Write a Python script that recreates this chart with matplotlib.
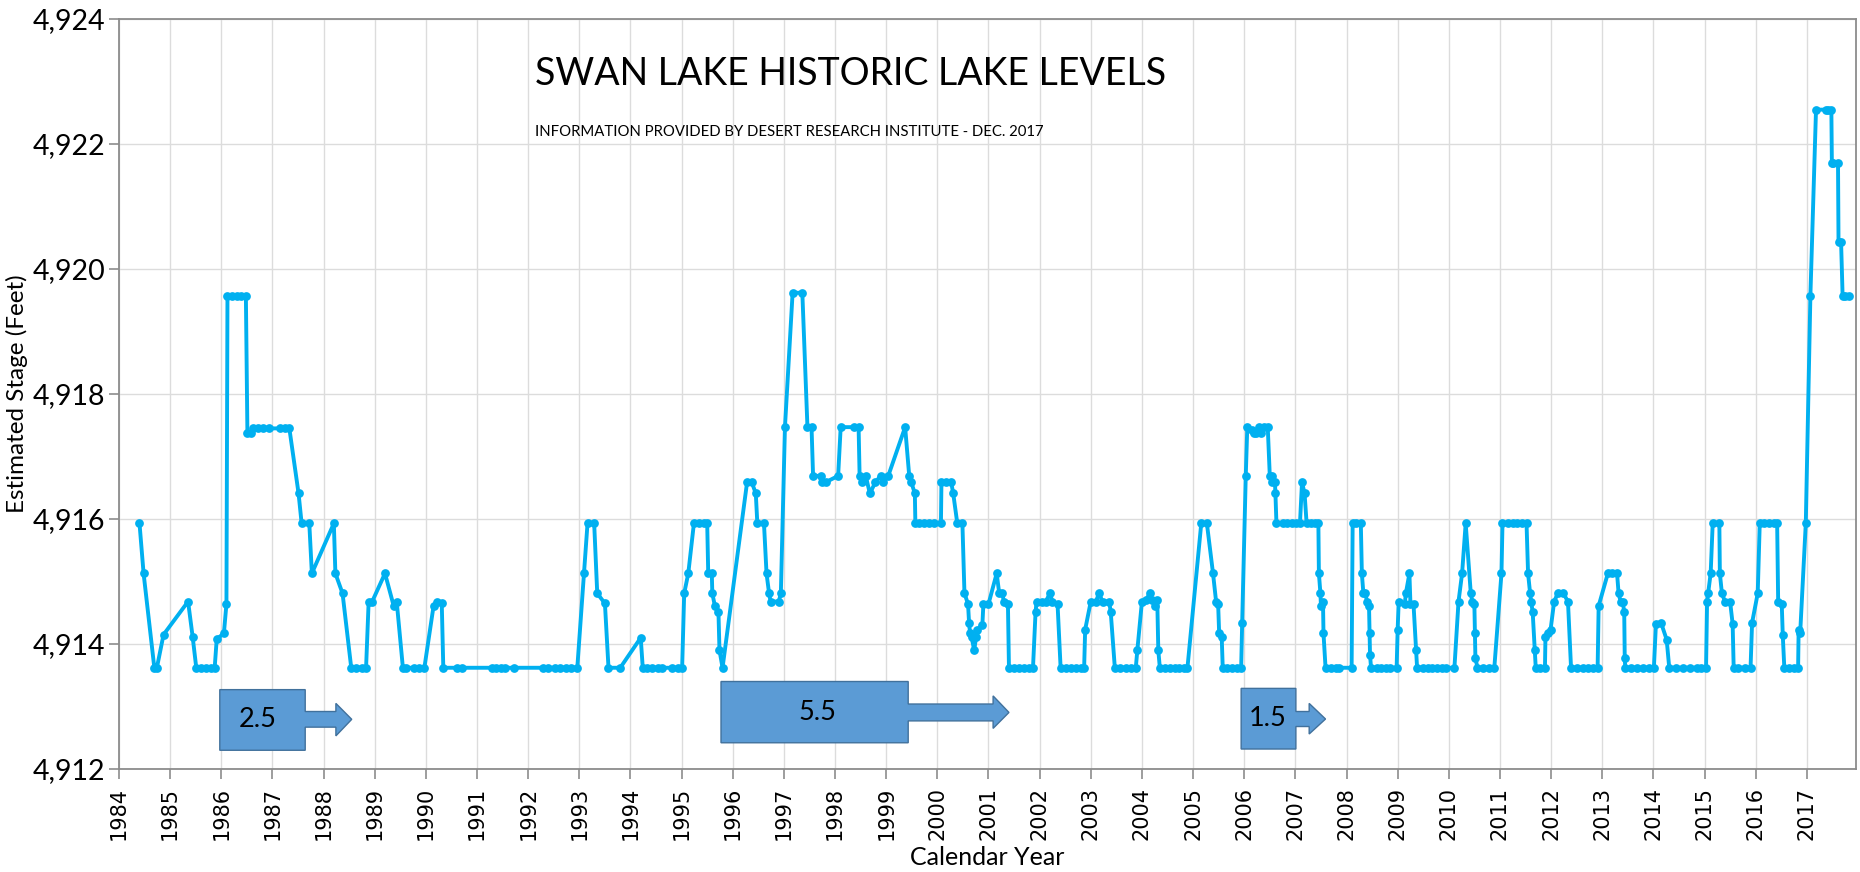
import matplotlib
matplotlib.use("Agg")
import matplotlib.pyplot as plt
from matplotlib.patches import Polygon
from matplotlib.ticker import FuncFormatter

# --- data (decimal year, estimated stage in feet) ---
year = [
    1984.40, 1984.48, 1984.69, 1984.74, 1984.87, 1985.35, 1985.44, 1985.51,
    1985.61, 1985.71, 1985.80, 1985.87, 1985.91, 1986.05, 1986.10, 1986.12,
    1986.21, 1986.30, 1986.39, 1986.48, 1986.51, 1986.58, 1986.62, 1986.72,
    1986.82, 1986.93, 1987.14, 1987.24, 1987.33, 1987.51, 1987.57, 1987.72,
    1987.77, 1988.20, 1988.23, 1988.37, 1988.54, 1988.64, 1988.75, 1988.83,
    1988.88, 1988.95, 1989.20, 1989.37, 1989.43, 1989.55, 1989.62, 1989.76,
    1989.87, 1989.97, 1990.15, 1990.21, 1990.31, 1990.34, 1990.60, 1990.71,
    1991.30, 1991.37, 1991.47, 1991.54, 1991.72, 1992.28, 1992.38, 1992.52,
    1992.63, 1992.73, 1992.84, 1992.96, 1993.09, 1993.16, 1993.29, 1993.35,
    1993.50, 1993.57, 1993.80, 1994.20, 1994.24, 1994.33, 1994.43, 1994.53,
    1994.62, 1994.82, 1994.92, 1995.01, 1995.05, 1995.13, 1995.24, 1995.34,
    1995.44, 1995.50, 1995.52, 1995.59, 1995.60, 1995.65, 1995.72, 1995.74,
    1995.80, 1996.28, 1996.37, 1996.45, 1996.48, 1996.61, 1996.66, 1996.71,
    1996.74, 1996.90, 1996.94, 1997.02, 1997.17, 1997.36, 1997.46, 1997.54,
    1997.57, 1997.72, 1997.75, 1997.82, 1998.06, 1998.11, 1998.37, 1998.46,
    1998.48, 1998.52, 1998.60, 1998.68, 1998.79, 1998.89, 1998.94, 1999.04,
    1999.37, 1999.45, 1999.49, 1999.56, 1999.57, 1999.64, 1999.74, 1999.84,
    1999.93, 2000.07, 2000.08, 2000.17, 2000.27, 2000.31, 2000.39, 2000.49,
    2000.53, 2000.60, 2000.62, 2000.64, 2000.67, 2000.72, 2000.76, 2000.78,
    2000.88, 2000.90, 2001.00, 2001.16, 2001.21, 2001.27, 2001.30, 2001.38,
    2001.40, 2001.50, 2001.60, 2001.70, 2001.79, 2001.87, 2001.92, 2001.94,
    2002.04, 2002.12, 2002.20, 2002.25, 2002.35, 2002.41, 2002.51, 2002.61,
    2002.71, 2002.80, 2002.87, 2002.89, 2003.00, 2003.10, 2003.16, 2003.23,
    2003.36, 2003.39, 2003.47, 2003.58, 2003.68, 2003.78, 2003.88, 2003.91,
    2004.00, 2004.08, 2004.15, 2004.20, 2004.25, 2004.30, 2004.32, 2004.35,
    2004.46, 2004.55, 2004.64, 2004.73, 2004.82, 2004.89, 2005.16, 2005.27,
    2005.39, 2005.45, 2005.49, 2005.51, 2005.56, 2005.58, 2005.67, 2005.76,
    2005.85, 2005.94, 2005.96, 2006.03, 2006.06, 2006.15, 2006.20, 2006.24,
    2006.28, 2006.32, 2006.39, 2006.46, 2006.50, 2006.54, 2006.55, 2006.60,
    2006.61, 2006.63, 2006.75, 2006.84, 2006.93, 2007.02, 2007.09, 2007.13,
    2007.18, 2007.22, 2007.30, 2007.38, 2007.45, 2007.46, 2007.49, 2007.50,
    2007.54, 2007.55, 2007.59, 2007.70, 2007.79, 2007.86, 2008.10, 2008.12,
    2008.19, 2008.28, 2008.30, 2008.33, 2008.37, 2008.40, 2008.44, 2008.45,
    2008.46, 2008.48, 2008.59, 2008.68, 2008.77, 2008.86, 2008.98, 2009.00,
    2009.02, 2009.14, 2009.16, 2009.23, 2009.25, 2009.31, 2009.36, 2009.38,
    2009.50, 2009.59, 2009.68, 2009.77, 2009.86, 2009.95, 2010.11, 2010.19,
    2010.26, 2010.33, 2010.43, 2010.46, 2010.50, 2010.51, 2010.52, 2010.56,
    2010.67, 2010.78, 2010.89, 2011.03, 2011.05, 2011.16, 2011.25, 2011.34,
    2011.43, 2011.52, 2011.55, 2011.59, 2011.61, 2011.64, 2011.68, 2011.70,
    2011.79, 2011.88, 2011.89, 2011.94, 2011.99, 2012.06, 2012.13, 2012.24,
    2012.33, 2012.39, 2012.51, 2012.62, 2012.73, 2012.82, 2012.91, 2012.93,
    2013.11, 2013.20, 2013.29, 2013.32, 2013.36, 2013.40, 2013.43, 2013.44,
    2013.45, 2013.56, 2013.68, 2013.80, 2013.91, 2014.01, 2014.05, 2014.15,
    2014.26, 2014.31, 2014.45, 2014.58, 2014.72, 2014.85, 2014.94, 2015.03,
    2015.05, 2015.07, 2015.12, 2015.16, 2015.29, 2015.30, 2015.34, 2015.40,
    2015.50, 2015.55, 2015.57, 2015.66, 2015.79, 2015.90, 2015.93, 2016.04,
    2016.08, 2016.17, 2016.26, 2016.35, 2016.42, 2016.44, 2016.51, 2016.53,
    2016.56, 2016.65, 2016.74, 2016.83, 2016.84, 2016.87, 2016.98, 2017.07,
    2017.18, 2017.38, 2017.42, 2017.48, 2017.49, 2017.52, 2017.61, 2017.62,
    2017.67, 2017.70, 2017.75, 2017.83,
]
stage = [
    4915.93, 4915.13, 4913.62, 4913.62, 4914.15, 4914.68, 4914.11, 4913.62,
    4913.62, 4913.62, 4913.62, 4913.62, 4914.08, 4914.17, 4914.64, 4919.57,
    4919.57, 4919.57, 4919.57, 4919.57, 4917.37, 4917.37, 4917.45, 4917.45,
    4917.45, 4917.45, 4917.45, 4917.45, 4917.45, 4916.41, 4915.93, 4915.93,
    4915.13, 4915.93, 4915.13, 4914.81, 4913.62, 4913.62, 4913.62, 4913.62,
    4914.67, 4914.68, 4915.13, 4914.61, 4914.67, 4913.62, 4913.62, 4913.62,
    4913.62, 4913.62, 4914.61, 4914.67, 4914.65, 4913.62, 4913.62, 4913.62,
    4913.62, 4913.62, 4913.62, 4913.62, 4913.62, 4913.62, 4913.62, 4913.62,
    4913.62, 4913.62, 4913.62, 4913.62, 4915.13, 4915.93, 4915.93, 4914.81,
    4914.65, 4913.62, 4913.62, 4914.10, 4913.62, 4913.62, 4913.62, 4913.62,
    4913.62, 4913.62, 4913.62, 4913.62, 4914.81, 4915.13, 4915.93, 4915.93,
    4915.93, 4915.93, 4915.13, 4915.13, 4914.81, 4914.61, 4914.51, 4913.90,
    4913.62, 4916.59, 4916.59, 4916.41, 4915.93, 4915.93, 4915.13, 4914.81,
    4914.68, 4914.68, 4914.81, 4917.47, 4919.62, 4919.62, 4917.47, 4917.47,
    4916.69, 4916.69, 4916.59, 4916.59, 4916.69, 4917.47, 4917.47, 4917.47,
    4916.69, 4916.59, 4916.69, 4916.41, 4916.59, 4916.69, 4916.59, 4916.69,
    4917.47, 4916.69, 4916.59, 4916.41, 4915.93, 4915.93, 4915.93, 4915.93,
    4915.93, 4915.93, 4916.59, 4916.59, 4916.59, 4916.41, 4915.93, 4915.93,
    4914.81, 4914.64, 4914.34, 4914.17, 4914.11, 4913.90, 4914.12, 4914.23,
    4914.30, 4914.64, 4914.64, 4915.13, 4914.81, 4914.81, 4914.68, 4914.64,
    4913.62, 4913.62, 4913.62, 4913.62, 4913.62, 4913.62, 4914.51, 4914.68,
    4914.68, 4914.68, 4914.81, 4914.68, 4914.64, 4913.62, 4913.62, 4913.62,
    4913.62, 4913.62, 4913.62, 4914.23, 4914.68, 4914.68, 4914.81, 4914.68,
    4914.68, 4914.51, 4913.62, 4913.62, 4913.62, 4913.62, 4913.62, 4913.90,
    4914.68, 4914.70, 4914.81, 4914.70, 4914.61, 4914.70, 4913.90, 4913.62,
    4913.62, 4913.62, 4913.62, 4913.62, 4913.62, 4913.62, 4915.93, 4915.93,
    4915.13, 4914.68, 4914.64, 4914.17, 4914.11, 4913.62, 4913.62, 4913.62,
    4913.62, 4913.62, 4914.34, 4916.69, 4917.47, 4917.42, 4917.37, 4917.37,
    4917.47, 4917.37, 4917.47, 4917.47, 4916.69, 4916.69, 4916.59, 4916.59,
    4916.41, 4915.93, 4915.93, 4915.93, 4915.93, 4915.93, 4915.93, 4916.59,
    4916.41, 4915.93, 4915.93, 4915.93, 4915.93, 4915.13, 4914.81, 4914.61,
    4914.68, 4914.17, 4913.62, 4913.62, 4913.62, 4913.62, 4913.62, 4915.93,
    4915.93, 4915.93, 4915.13, 4914.81, 4914.81, 4914.68, 4914.61, 4914.17,
    4913.82, 4913.62, 4913.62, 4913.62, 4913.62, 4913.62, 4913.62, 4914.23,
    4914.68, 4914.64, 4914.81, 4915.13, 4914.64, 4914.64, 4913.90, 4913.62,
    4913.62, 4913.62, 4913.62, 4913.62, 4913.62, 4913.62, 4913.62, 4914.68,
    4915.13, 4915.93, 4914.81, 4914.68, 4914.64, 4914.17, 4913.78, 4913.62,
    4913.62, 4913.62, 4913.62, 4915.13, 4915.93, 4915.93, 4915.93, 4915.93,
    4915.93, 4915.93, 4915.13, 4914.81, 4914.68, 4914.51, 4913.90, 4913.62,
    4913.62, 4913.62, 4914.12, 4914.17, 4914.23, 4914.68, 4914.81, 4914.81,
    4914.68, 4913.62, 4913.62, 4913.62, 4913.62, 4913.62, 4913.62, 4914.61,
    4915.13, 4915.13, 4915.13, 4914.81, 4914.68, 4914.68, 4914.51, 4913.78,
    4913.62, 4913.62, 4913.62, 4913.62, 4913.62, 4913.62, 4914.32, 4914.34,
    4914.07, 4913.62, 4913.62, 4913.62, 4913.62, 4913.62, 4913.62, 4913.62,
    4914.68, 4914.81, 4915.13, 4915.93, 4915.93, 4915.13, 4914.81, 4914.68,
    4914.68, 4914.32, 4913.62, 4913.62, 4913.62, 4913.62, 4914.34, 4914.81,
    4915.93, 4915.93, 4915.93, 4915.93, 4915.93, 4914.68, 4914.64, 4914.14,
    4913.62, 4913.62, 4913.62, 4913.62, 4914.23, 4914.17, 4915.93, 4919.57,
    4922.55, 4922.55, 4922.55, 4922.55, 4921.69, 4921.69, 4921.69, 4920.43,
    4920.43, 4919.57, 4919.57, 4919.57,
]
assert len(year) == len(stage)

year_ticks = list(range(1984, 2018))
stage_ticks = [4912, 4914, 4916, 4918, 4920, 4922, 4924]

# block-arrow callouts (label, box span, arrow head, tip)
callout_text = ["2.5", "5.5", "1.5"]
callout_text_x = [1986.72, 1997.65, 2006.45]
box_left = [1985.97, 1995.77, 2005.94]
box_right = [1987.64, 1999.43, 2007.01]
head_base = [1988.24, 2001.09, 2007.27]
head_tip = [1988.55, 2001.40, 2007.59]
box_top = [4913.27, 4913.40, 4913.29]
box_bottom = [4912.30, 4912.42, 4912.32]
shaft_top = [4912.92, 4913.04, 4912.92]
shaft_bottom = [4912.67, 4912.77, 4912.68]
head_top = [4913.05, 4913.17, 4913.05]
head_bottom = [4912.53, 4912.65, 4912.56]

# --- figure ---
fig = plt.figure(figsize=(18.6, 8.72), dpi=100)
ax = fig.add_axes([0.064, 0.1181, 0.9338, 0.8601])

ax.plot(year, stage, color="#00B0F0", lw=2.8, marker="o", ms=6.3,
        markeredgewidth=0, zorder=3)

for i in range(len(callout_text)):
    mid = (shaft_top[i] + shaft_bottom[i]) / 2
    verts = [
        (box_left[i], box_bottom[i]), (box_left[i], box_top[i]),
        (box_right[i], box_top[i]), (box_right[i], shaft_top[i]),
        (head_base[i], shaft_top[i]), (head_base[i], head_top[i]),
        (head_tip[i], mid), (head_base[i], head_bottom[i]),
        (head_base[i], shaft_bottom[i]), (box_right[i], shaft_bottom[i]),
        (box_right[i], box_bottom[i]),
    ]
    ax.add_patch(Polygon(verts, closed=True, facecolor="#5B9BD5",
                         edgecolor="#41719C", lw=1.0, zorder=4))
    ax.text(callout_text_x[i], (box_top[i] + box_bottom[i]) / 2, callout_text[i],
            ha="center", va="center", fontsize=19.5, family="Lato", zorder=5)

ax.set_xlim(1984, 2017.96)
ax.set_ylim(4912, 4924)
ax.set_xticks(year_ticks)
ax.set_xticklabels([str(y) for y in year_ticks], rotation=90,
                   family="DejaVu Sans", fontsize=15)
ax.set_yticks(stage_ticks)
ax.yaxis.set_major_formatter(FuncFormatter(lambda v, p: f"{v:,.0f}"))
for lab in ax.get_yticklabels():
    lab.set_family("Lato")
    lab.set_fontsize(20.5)

ax.grid(True, color="#DCDCDC", lw=1.0)
ax.set_axisbelow(True)
for s in ax.spines.values():
    s.set_color("#8C8C8C")
    s.set_linewidth(1.3)
ax.tick_params(axis="both", direction="out", length=7, width=1.2,
               color="#8C8C8C")
ax.tick_params(axis="y", pad=3)
ax.tick_params(axis="x", pad=6)

ax.set_xlabel("Calendar Year", family="Lato", fontsize=18, va="center")
ax.xaxis.set_label_coords(0.5, -0.118)
ax.set_ylabel("Estimated Stage (Feet)", family="Lato", fontsize=17.5, va="center")
ax.yaxis.set_label_coords(-0.0585, 0.5)

fig.text(0.2876, 0.915, "SWAN LAKE HISTORIC LAKE LEVELS", family="Lato",
         fontsize=27.0, va="center", ha="left")
fig.text(0.2876, 0.849,
         "INFORMATION PROVIDED BY DESERT RESEARCH INSTITUTE - DEC. 2017",
         family="Lato", fontsize=10.7, va="center", ha="left")

fig.savefig("out.png", dpi=100)
